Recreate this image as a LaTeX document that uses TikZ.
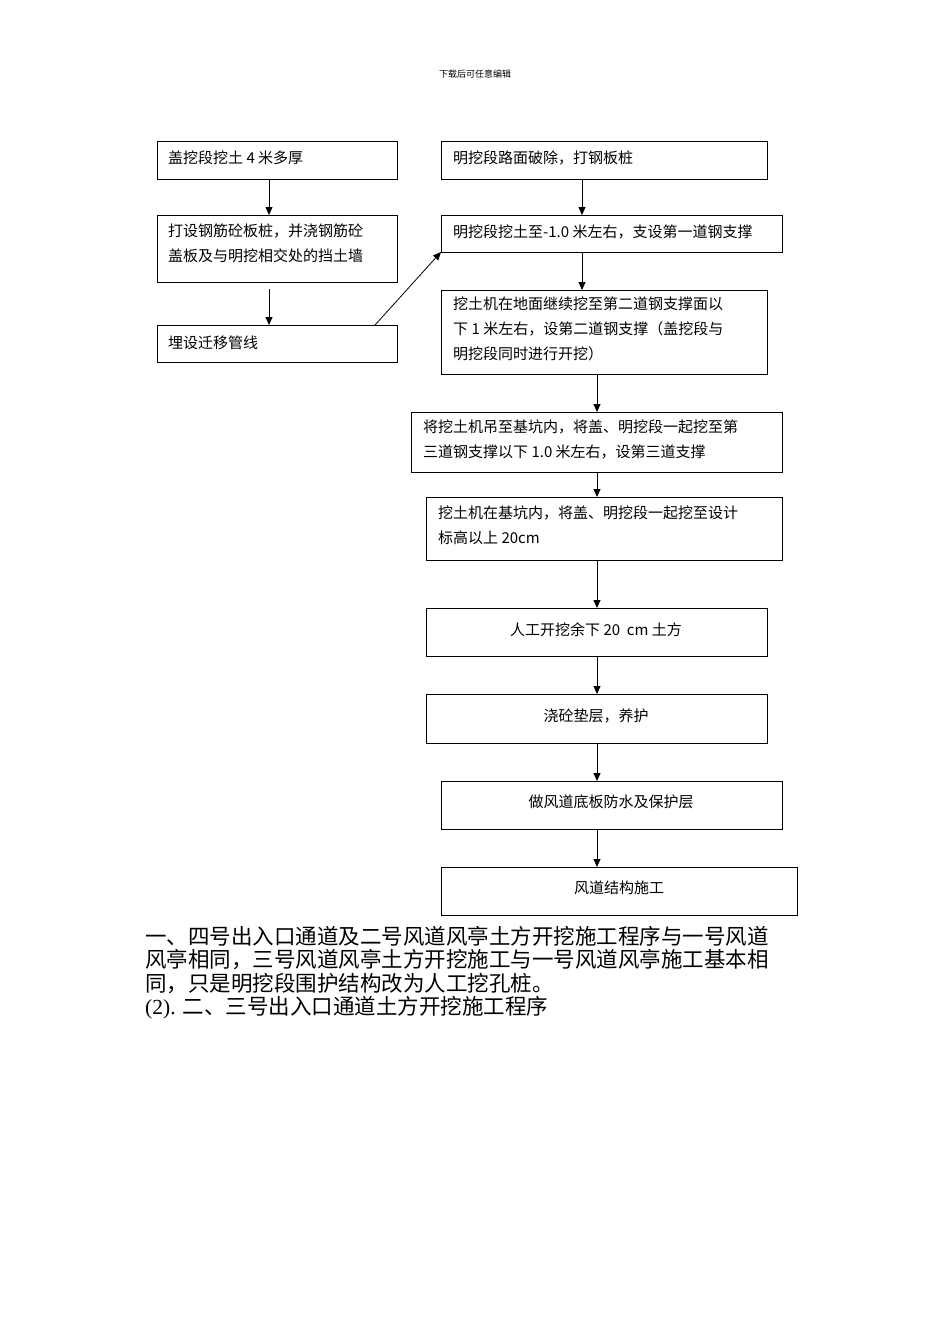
\documentclass[tikz,border=0pt]{standalone}
\usepackage{fontspec}
\setmainfont{Liberation Serif}
\newfontfamily\cjk{Noto Sans CJK SC}
\usetikzlibrary{arrows.meta}
\begin{document}
\begin{tikzpicture}[x=1pt,y=-1pt,
  bx/.style={draw,line width=0.8pt},
  tx/.style={anchor=north west,align=left,inner sep=0pt,font=\cjk\fontsize{15}{25}\selectfont},
  ar/.style={-{Triangle[length=8pt,width=7pt]},line width=0.8pt}]
\useasboundingbox (0,0) rectangle (950,1344);
\node[font=\cjk\fontsize{9}{11}\selectfont] (hd) at (475,74) {下载后可任意编辑};
% left
\draw[bx] (157,141) rectangle (397,179); \coordinate (l1b) at (269,179);
\node[tx] (l1) at (168,151) {盖挖段挖土 4 米多厚};
\draw[bx] (157,215) rectangle (397,282); \coordinate (l2t) at (269,215); \coordinate (l2b) at (269,289);
\node[tx] (l2) at (168,224) {打设钢筋砼板桩，并浇钢筋砼\\盖板及与明挖相交处的挡土墙};
\draw[bx] (157,325) rectangle (397,362); \coordinate (l3t) at (269,325); \coordinate (l3c) at (375,325);
\node[tx] (l3) at (168,336) {埋设迁移管线};
% right
\draw[bx] (441,141) rectangle (767,179);
\node[tx] (r1) at (453,151) {明挖段路面破除，打钢板桩};
\draw[bx] (441,215) rectangle (782,252);
\node[tx] (r2) at (453,225) {明挖段挖土至-1.0 米左右，支设第一道钢支撑};
\draw[bx] (441,290) rectangle (767,374);
\node[tx] (r3) at (453,297) {挖土机在地面继续挖至第二道钢支撑面以\\下 1 米左右，设第二道钢支撑（盖挖段与\\明挖段同时进行开挖）};
\draw[bx] (411,412) rectangle (782,472);
\node[tx] (r4) at (423,420) {将挖土机吊至基坑内，将盖、明挖段一起挖至第\\三道钢支撑以下 1.0 米左右，设第三道支撑};
\draw[bx] (426,497) rectangle (782,560);
\node[tx] (r5) at (438,506) {挖土机在基坑内，将盖、明挖段一起挖至设计\\标高以上 20cm};
\draw[bx] (426,608) rectangle (767,656);
\node[font=\cjk\fontsize{15}{18}\selectfont] (r6) at (596,630) {人工开挖余下 20 \ cm 土方};
\draw[bx] (426,694) rectangle (767,743);
\node[font=\cjk\fontsize{15}{18}\selectfont] (r7) at (596,716) {浇砼垫层，养护};
\draw[bx] (441,781) rectangle (782,829);
\node[font=\cjk\fontsize{15}{18}\selectfont] (r8) at (611,802) {做风道底板防水及保护层};
\draw[bx] (441,867) rectangle (797,915);
\node[font=\cjk\fontsize{15}{18}\selectfont] (r9) at (619,888) {风道结构施工};
% arrows
\draw[ar] (l1b) -- (l2t);
\draw[ar] (l2b) -- (l3t);
\draw[ar] (l3c) -- (441,252);
\draw[ar] (582,179) -- (582,215);
\draw[ar] (582,252) -- (582,290);
\draw[ar] (597,374) -- (597,412);
\draw[ar] (597,472) -- (597,497);
\draw[ar] (597,560) -- (597,608);
\draw[ar] (597,656) -- (597,694);
\draw[ar] (597,743) -- (597,781);
\draw[ar] (597,829) -- (597,867);
% paragraph
\begin{scope}[every node/.style={anchor=west,inner sep=0pt,font=\cjk\fontsize{21.5}{24}\selectfont}]
\node (p1) at (145,936) {一、四号出入口通道及二号风道风亭土方开挖施工程序与一号风道};
\node (p2) at (145,960) {风亭相同，三号风道风亭土方开挖施工与一号风道风亭施工基本相};
\node (p3) at (145,984) {同，只是明挖段围护结构改为人工挖孔桩。};
\node (p4) at (145,1008) {\fontspec{Liberation Serif}(2). \cjk 二、三号出入口通道土方开挖施工程序};
\end{scope}
\end{tikzpicture}
\end{document}
